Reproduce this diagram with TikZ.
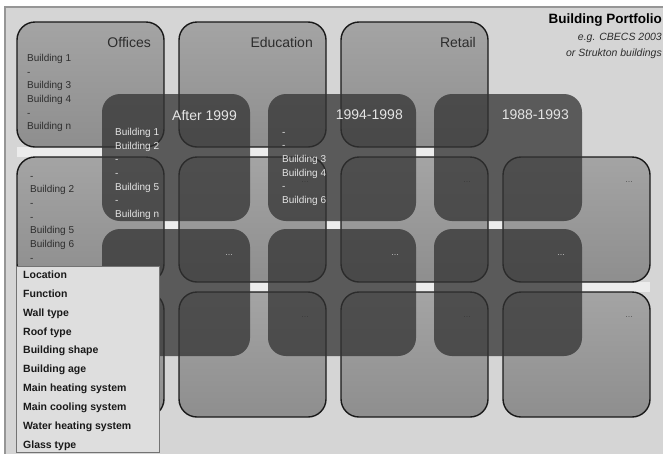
\documentclass[tikz,border=0pt]{standalone}
\usepackage{fontspec}
\setmainfont{Liberation Sans}
\usetikzlibrary{positioning}
\usetikzlibrary{calc}
\usetikzlibrary{backgrounds}

\definecolor{bggray}{RGB}{213,213,213}
\definecolor{gapwhite}{RGB}{236,236,236}
\definecolor{framegray}{RGB}{150,150,150}
\definecolor{boxtop}{RGB}{164,164,164}
\definecolor{boxbot}{RGB}{142,142,142}
\definecolor{agegray}{RGB}{50,50,50}
\definecolor{listgray}{RGB}{222,222,222}
\definecolor{inkdark}{RGB}{45,45,45}
\definecolor{inklight}{RGB}{228,228,228}

\begin{document}
\begin{tikzpicture}[
    x=1pt, y=-1pt,
    funbox/.style={rectangle, rounded corners=18pt, draw=black!90, line width=1.4pt,
        top color=boxtop, bottom color=boxbot, minimum width=147pt, minimum height=125pt,
        inner sep=0pt, outer sep=0pt, anchor=north west},
    agebox/.style={rectangle, rounded corners=18pt, fill=agegray, fill opacity=0.75,
        minimum width=148pt, minimum height=127pt, inner sep=0pt, outer sep=0pt,
        anchor=north west},
    funtitle/.style={inner sep=0pt, anchor=east, text=inkdark, font=\fontsize{14}{16}\selectfont},
    agetitle/.style={inner sep=0pt, anchor=east, text=inklight, font=\fontsize{14}{16}\selectfont},
    funlist/.style={inner sep=0pt, anchor=north west, align=left, text=inkdark,
        font=\fontsize{10}{13.7}\selectfont},
    agelist/.style={funlist, text=inklight},
    etclight/.style={inner sep=0pt, text=black!65, font=\fontsize{9}{10}\selectfont},
    etcdark/.style={etclight, text=black!25},
    attrbox/.style={rectangle, draw=black!55, line width=0.8pt, fill=listgray,
        minimum width=143pt, minimum height=186pt, inner sep=0pt, outer sep=0pt,
        anchor=north west},
    attrlist/.style={inner sep=0pt, anchor=north west, align=left, text=black!90,
        font=\bfseries\fontsize{10.5}{18.9}\selectfont},
]
    \useasboundingbox (0,0) rectangle (663,453);

    % building functions
    \node[funbox] (FA1) at (17,22) {};
    \node[funbox] (FA2) [right=15pt of FA1] {};
    \node[funbox] (FA3) [right=15pt of FA2] {};

    \node[funbox] (FB1) [below=10pt of FA1] {};
    \node[funbox] (FB2) [right=15pt of FB1] {};
    \node[funbox] (FB3) [right=15pt of FB2] {};
    \node[funbox] (FB4) [right=15pt of FB3] {};

    \node[funbox] (FC1) [below=10pt of FB1] {};
    \node[funbox] (FC2) [right=15pt of FC1] {};
    \node[funbox] (FC3) [right=15pt of FC2] {};
    \node[funbox] (FC4) [right=15pt of FC3] {};

    \node[funtitle] (TOff) at ($(FA1.north east)+(-13,20)$) {Offices};
    \node[funtitle] (TEdu) at ($(FA2.north east)+(-13,20)$) {Education};
    \node[funtitle] (TRet) at ($(FA3.north east)+(-12,20)$) {Retail};

    \node[funlist] (LOff) at ($(FA1.north west)+(10,32)$)
        {\vphantom{B}Building 1\\-\\Building 3\\Building 4\\-\\Building n};
    \node[funlist] (LB1) at ($(FB1.north west)+(13,15)$)
        {\vphantom{B}-\\Building 2\\-\\-\\Building 5\\Building 6\\-};

    \node[etclight] (EB2) at ($(FB2.north east)+(-21,25)$) {...};
    \node[etclight] (EB3) at ($(FB3.north east)+(-21,25)$) {...};
    \node[etclight] (EB4) at ($(FB4.north east)+(-21,25)$) {...};
    \node[etclight] (EC2) at ($(FC2.north east)+(-21,25)$) {...};
    \node[etclight] (EC3) at ($(FC3.north east)+(-21,25)$) {...};
    \node[etclight] (EC4) at ($(FC4.north east)+(-21,25)$) {...};

    % building ages
    \node[agebox] (AA1) at (102,94) {};
    \node[agebox] (AA2) [right=18pt of AA1] {};
    \node[agebox] (AA3) [right=18pt of AA2] {};

    \node[agebox] (AB1) [below=8pt of AA1] {};
    \node[agebox] (AB2) [right=18pt of AB1] {};
    \node[agebox] (AB3) [right=18pt of AB2] {};

    \node[agetitle] (TA1) at ($(AA1.north east)+(-13,21)$) {After 1999};
    \node[agetitle] (TA2) at ($(AA2.north east)+(-13,21)$) {1994-1998};
    \node[agetitle] (TA3) at ($(AA3.north east)+(-13,21)$) {1988-1993};

    \node[agelist] (LA1) at ($(AA1.north west)+(13,34)$)
        {\vphantom{B}Building 1\\Building 2\\-\\-\\Building 5\\-\\Building n};
    \node[agelist] (LA2) at ($(AA2.north west)+(14,34)$)
        {\vphantom{B}-\\-\\Building 3\\Building 4\\-\\Building 6};

    \node[etcdark] (EA1) at ($(AB1.north east)+(-21,26)$) {...};
    \node[etcdark] (EA2) at ($(AB2.north east)+(-21,26)$) {...};
    \node[etcdark] (EA3) at ($(AB3.north east)+(-21,26)$) {...};

    % attributes
    \node[attrbox] (ATT) at (16,266) {};
    \node[attrlist] (LATT) at ($(ATT.north west)+(7,4.5)$)
        {\vphantom{L}Location\\Function\\Wall type\\Roof type\\Building shape\\Building age\\
         Main heating system\\Main cooling system\\Water heating system\\Glass type};

    % portfolio
    \node[inner sep=0pt, anchor=east, font=\bfseries\fontsize{13.5}{15}\selectfont] (TTL) at (662,20) {Building Portfolio};
    \node[inner sep=0pt, anchor=east, text=inkdark, font=\itshape\fontsize{10.5}{12}\selectfont] (SUB1) at (662,38) {e.g. CBECS 2003};
    \node[inner sep=0pt, anchor=east, text=inkdark, font=\itshape\fontsize{10.5}{12}\selectfont] (SUB2) at (662,54) {or Strukton buildings};

    % sheet and light gaps
    \begin{scope}[on background layer]
        \fill[bggray] (5,7) rectangle (666,456);
        \draw[framegray, line width=1.2pt] (5,456) -- (5,7) -- (666,7);
        \fill[gapwhite] (FA1.south west) rectangle (AA1.west |- FB1.north);
        \fill[gapwhite] (AA1.east |- FA2.south) rectangle (AA2.west |- FB2.north);
        \fill[gapwhite] (AA2.east |- FA3.south) rectangle (AA3.west |- FB3.north);
        \fill[gapwhite] (AB1.east |- FB2.south) rectangle (AB2.west |- FC2.north);
        \fill[gapwhite] (AB2.east |- FB3.south) rectangle (AB3.west |- FC3.north);
        \fill[gapwhite] (AB3.east |- FB4.south) rectangle (FC4.north east);
        \fill[gapwhite] (FB1.east |- AA1.south) rectangle (FB2.west |- AB1.north);
        \fill[gapwhite] (FB2.east |- AA2.south) rectangle (FB3.west |- AB2.north);
        \fill[gapwhite] (FB3.east |- AA3.south) rectangle (FB4.west |- AB3.north);
    \end{scope}
\end{tikzpicture}
\end{document}
